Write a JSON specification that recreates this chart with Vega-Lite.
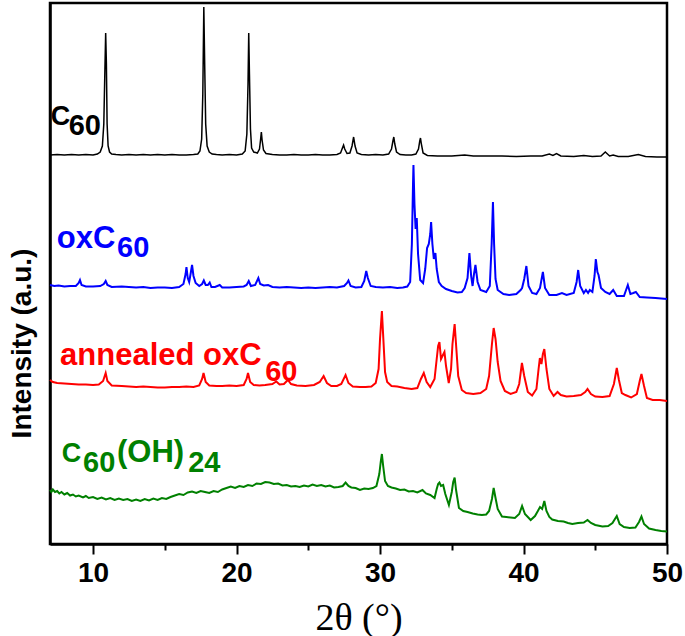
{
"$schema": "https://vega.github.io/schema/vega-lite/v6.json",
"width": 617, "height": 541,
"autosize": {"type": "none"},
"padding": {"left": 50, "top": 3, "right": 18, "bottom": 92},
"background": "white",
"config": {"view": {"stroke": "#000", "strokeWidth": 2.5}, "font": "Liberation Sans"},
"datasets": {
"c60": [{"x":7.0,"y":389},{"x":7.5,"y":389.5},{"x":8.0,"y":389},{"x":8.5,"y":389.5},{"x":9.0,"y":389},{"x":9.5,"y":389.5},{"x":10.0,"y":389},{"x":10.3,"y":390},{"x":10.5,"y":392},{"x":10.65,"y":398},{"x":10.75,"y":420},{"x":10.82,"y":470},{"x":10.88,"y":511},{"x":10.93,"y":480},{"x":10.98,"y":420},{"x":11.05,"y":398},{"x":11.15,"y":392},{"x":11.3,"y":390},{"x":11.6,"y":389.5},{"x":12.0,"y":389},{"x":12.5,"y":389.5},{"x":13.0,"y":389},{"x":13.5,"y":389.5},{"x":14.0,"y":389},{"x":14.5,"y":389.5},{"x":15.0,"y":389},{"x":15.5,"y":389.5},{"x":16.0,"y":389},{"x":16.5,"y":389},{"x":17.0,"y":389.5},{"x":17.3,"y":390},{"x":17.45,"y":393},{"x":17.57,"y":405},{"x":17.65,"y":450},{"x":17.72,"y":537},{"x":17.78,"y":480},{"x":17.85,"y":420},{"x":17.95,"y":398},{"x":18.1,"y":392},{"x":18.3,"y":390},{"x":18.6,"y":389.5},{"x":19.0,"y":389},{"x":19.5,"y":389.5},{"x":20.0,"y":389},{"x":20.4,"y":390},{"x":20.6,"y":393},{"x":20.72,"y":410},{"x":20.8,"y":460},{"x":20.85,"y":511},{"x":20.9,"y":470},{"x":20.97,"y":415},{"x":21.05,"y":396},{"x":21.2,"y":392},{"x":21.45,"y":391},{"x":21.6,"y":395},{"x":21.68,"y":405},{"x":21.73,"y":412},{"x":21.78,"y":404},{"x":21.88,"y":394},{"x":22.05,"y":390.5},{"x":22.5,"y":389.5},{"x":23.0,"y":389},{"x":23.5,"y":389},{"x":24.0,"y":389.5},{"x":24.5,"y":389},{"x":25.0,"y":389},{"x":25.5,"y":389.5},{"x":26.0,"y":389},{"x":26.5,"y":389},{"x":27.0,"y":389.5},{"x":27.25,"y":391},{"x":27.38,"y":396},{"x":27.46,"y":399},{"x":27.54,"y":395},{"x":27.7,"y":390.5},{"x":27.9,"y":391},{"x":28.05,"y":398},{"x":28.16,"y":407},{"x":28.26,"y":398},{"x":28.4,"y":391},{"x":28.7,"y":389.5},{"x":29.2,"y":389},{"x":29.7,"y":389.5},{"x":30.2,"y":389},{"x":30.6,"y":390},{"x":30.8,"y":395},{"x":30.9,"y":403},{"x":30.96,"y":407},{"x":31.03,"y":400},{"x":31.15,"y":392},{"x":31.4,"y":389.5},{"x":31.8,"y":389},{"x":32.2,"y":389},{"x":32.5,"y":390},{"x":32.68,"y":395},{"x":32.77,"y":403},{"x":32.82,"y":406},{"x":32.88,"y":400},{"x":33.0,"y":391},{"x":33.3,"y":388.5},{"x":34.0,"y":388},{"x":35.0,"y":388},{"x":35.9,"y":389},{"x":36.5,"y":388},{"x":37.5,"y":388},{"x":38.5,"y":388},{"x":39.5,"y":387.5},{"x":40.5,"y":388},{"x":41.3,"y":388},{"x":41.8,"y":390},{"x":42.05,"y":388.5},{"x":42.3,"y":390.5},{"x":42.6,"y":388},{"x":43.5,"y":387.5},{"x":44.2,"y":388.5},{"x":44.8,"y":387.5},{"x":45.4,"y":388},{"x":45.7,"y":392},{"x":46.0,"y":388},{"x":46.25,"y":389},{"x":46.6,"y":387.5},{"x":47.3,"y":387.5},{"x":48.0,"y":389.5},{"x":48.5,"y":387.5},{"x":49.3,"y":387},{"x":50.0,"y":387}],
"ox": [{"x":7.0,"y":259},{"x":7.3,"y":258},{"x":7.6,"y":258.5},{"x":8.0,"y":257.5},{"x":8.4,"y":258},{"x":8.8,"y":258},{"x":9.0,"y":261},{"x":9.09,"y":264},{"x":9.2,"y":259},{"x":9.5,"y":257.5},{"x":10.0,"y":257.5},{"x":10.5,"y":258},{"x":10.75,"y":260},{"x":10.88,"y":263},{"x":11.0,"y":259},{"x":11.3,"y":257},{"x":12.0,"y":257.5},{"x":12.5,"y":257},{"x":13.0,"y":256.5},{"x":13.5,"y":257},{"x":14.0,"y":256},{"x":14.5,"y":256.5},{"x":15.0,"y":256.5},{"x":15.5,"y":256},{"x":16.0,"y":257},{"x":16.3,"y":260},{"x":16.45,"y":270},{"x":16.51,"y":277},{"x":16.6,"y":266},{"x":16.7,"y":262},{"x":16.82,"y":272},{"x":16.9,"y":279},{"x":17.0,"y":268},{"x":17.15,"y":261},{"x":17.4,"y":258},{"x":17.6,"y":260},{"x":17.72,"y":263.5},{"x":17.85,"y":259},{"x":18.0,"y":259},{"x":18.13,"y":261.5},{"x":18.25,"y":257},{"x":18.5,"y":257},{"x":18.83,"y":259},{"x":19.0,"y":256.5},{"x":19.5,"y":256.5},{"x":20.0,"y":257},{"x":20.5,"y":257.5},{"x":20.7,"y":259},{"x":20.85,"y":263},{"x":21.0,"y":258},{"x":21.3,"y":259},{"x":21.52,"y":266},{"x":21.65,"y":260},{"x":21.9,"y":258.5},{"x":22.2,"y":259},{"x":22.5,"y":257},{"x":23.0,"y":256.5},{"x":23.5,"y":257},{"x":24.0,"y":256.5},{"x":24.5,"y":256},{"x":25.0,"y":256.5},{"x":25.5,"y":256},{"x":26.0,"y":256.5},{"x":26.5,"y":257},{"x":27.0,"y":256.5},{"x":27.5,"y":258},{"x":27.7,"y":261},{"x":27.8,"y":263.5},{"x":27.95,"y":258},{"x":28.3,"y":256.5},{"x":28.7,"y":257},{"x":28.9,"y":263},{"x":29.04,"y":273},{"x":29.15,"y":266},{"x":29.35,"y":258},{"x":29.7,"y":257},{"x":30.2,"y":256.5},{"x":30.7,"y":257},{"x":31.2,"y":256},{"x":31.6,"y":256.5},{"x":31.9,"y":257.5},{"x":32.1,"y":262},{"x":32.22,"y":300},{"x":32.3,"y":360},{"x":32.33,"y":379},{"x":32.4,"y":340},{"x":32.48,"y":315},{"x":32.56,"y":326},{"x":32.65,"y":290},{"x":32.8,"y":264},{"x":33.0,"y":261},{"x":33.15,"y":275},{"x":33.28,"y":296},{"x":33.4,"y":300},{"x":33.5,"y":310},{"x":33.56,"y":322},{"x":33.65,"y":300},{"x":33.75,"y":285},{"x":33.86,"y":291},{"x":33.95,"y":275},{"x":34.1,"y":262},{"x":34.3,"y":258},{"x":34.6,"y":255},{"x":35.0,"y":253},{"x":35.4,"y":251.5},{"x":35.7,"y":252},{"x":35.9,"y":256},{"x":36.1,"y":266},{"x":36.23,"y":291},{"x":36.35,"y":268},{"x":36.45,"y":258},{"x":36.55,"y":270},{"x":36.65,"y":279},{"x":36.8,"y":262},{"x":37.0,"y":254},{"x":37.4,"y":252},{"x":37.65,"y":258},{"x":37.78,"y":300},{"x":37.87,"y":342},{"x":37.95,"y":300},{"x":38.05,"y":265},{"x":38.2,"y":254},{"x":38.6,"y":250},{"x":39.0,"y":249},{"x":39.5,"y":250},{"x":39.8,"y":254},{"x":39.9,"y":256},{"x":40.05,"y":265},{"x":40.2,"y":278},{"x":40.35,"y":258},{"x":40.6,"y":251},{"x":40.9,"y":250},{"x":41.15,"y":256},{"x":41.35,"y":272},{"x":41.5,"y":256},{"x":41.8,"y":249},{"x":42.3,"y":249},{"x":42.68,"y":251},{"x":43.0,"y":249},{"x":43.5,"y":251},{"x":43.7,"y":262},{"x":43.81,"y":274},{"x":43.95,"y":258},{"x":44.2,"y":251},{"x":44.35,"y":254},{"x":44.5,"y":251},{"x":44.62,"y":254},{"x":44.8,"y":252},{"x":44.95,"y":268},{"x":45.04,"y":285},{"x":45.15,"y":272},{"x":45.23,"y":269},{"x":45.4,"y":256},{"x":45.7,"y":252},{"x":46.0,"y":250},{"x":46.25,"y":254},{"x":46.5,"y":248},{"x":47.0,"y":248},{"x":47.27,"y":259},{"x":47.45,"y":250},{"x":47.65,"y":251},{"x":47.83,"y":252},{"x":48.1,"y":247},{"x":48.6,"y":246.5},{"x":49.2,"y":246},{"x":49.6,"y":245.5},{"x":50.0,"y":245}],
"ann": [{"x":7.0,"y":164},{"x":7.2,"y":162},{"x":7.5,"y":161},{"x":8.0,"y":160.5},{"x":8.5,"y":160},{"x":9.0,"y":159.5},{"x":9.5,"y":159.5},{"x":10.0,"y":159},{"x":10.4,"y":159.5},{"x":10.7,"y":163},{"x":10.88,"y":171},{"x":11.0,"y":163},{"x":11.3,"y":158.5},{"x":12.0,"y":158},{"x":12.5,"y":157.5},{"x":13.0,"y":157},{"x":13.5,"y":157.5},{"x":14.0,"y":157},{"x":14.5,"y":156.5},{"x":15.0,"y":156.5},{"x":15.5,"y":157},{"x":16.0,"y":157},{"x":16.5,"y":157.5},{"x":17.0,"y":157},{"x":17.4,"y":158.5},{"x":17.6,"y":165},{"x":17.7,"y":171},{"x":17.85,"y":162},{"x":18.1,"y":158.5},{"x":18.6,"y":158},{"x":19.0,"y":158},{"x":19.5,"y":158.5},{"x":20.0,"y":158},{"x":20.5,"y":159},{"x":20.7,"y":165},{"x":20.8,"y":171},{"x":20.95,"y":162},{"x":21.2,"y":159},{"x":21.6,"y":158.5},{"x":22.0,"y":159},{"x":22.5,"y":160},{"x":22.77,"y":162.5},{"x":23.0,"y":159.5},{"x":23.3,"y":160},{"x":23.58,"y":164},{"x":23.8,"y":160},{"x":24.2,"y":158.5},{"x":24.8,"y":158},{"x":25.4,"y":159},{"x":25.8,"y":162},{"x":26.07,"y":168},{"x":26.3,"y":161},{"x":26.6,"y":158},{"x":27.0,"y":158},{"x":27.3,"y":160},{"x":27.6,"y":169},{"x":27.8,"y":161},{"x":28.1,"y":157.5},{"x":28.6,"y":157},{"x":29.0,"y":157},{"x":29.4,"y":157.5},{"x":29.7,"y":161},{"x":29.9,"y":175},{"x":30.0,"y":205},{"x":30.13,"y":233},{"x":30.25,"y":200},{"x":30.35,"y":172},{"x":30.5,"y":162},{"x":30.8,"y":158},{"x":31.2,"y":157.5},{"x":31.7,"y":156},{"x":32.2,"y":155},{"x":32.6,"y":156},{"x":32.85,"y":165},{"x":33.05,"y":171},{"x":33.25,"y":162},{"x":33.5,"y":157},{"x":33.8,"y":165},{"x":33.95,"y":185},{"x":34.05,"y":198},{"x":34.14,"y":202},{"x":34.25,"y":185},{"x":34.35,"y":188},{"x":34.49,"y":192},{"x":34.6,"y":178},{"x":34.79,"y":161},{"x":34.95,"y":175},{"x":35.05,"y":200},{"x":35.2,"y":220},{"x":35.32,"y":195},{"x":35.45,"y":168},{"x":35.7,"y":154},{"x":36.0,"y":151},{"x":36.5,"y":150},{"x":37.0,"y":151},{"x":37.4,"y":155},{"x":37.6,"y":168},{"x":37.8,"y":200},{"x":37.92,"y":216},{"x":38.05,"y":205},{"x":38.2,"y":182},{"x":38.4,"y":163},{"x":38.7,"y":153},{"x":39.1,"y":150},{"x":39.5,"y":152},{"x":39.7,"y":160},{"x":39.89,"y":181},{"x":40.05,"y":168},{"x":40.3,"y":152},{"x":40.6,"y":148.5},{"x":40.9,"y":155},{"x":41.05,"y":175},{"x":41.14,"y":186},{"x":41.25,"y":180},{"x":41.35,"y":190},{"x":41.45,"y":195},{"x":41.6,"y":175},{"x":41.8,"y":155},{"x":42.1,"y":148},{"x":42.37,"y":152},{"x":42.6,"y":149},{"x":43.0,"y":147.5},{"x":43.5,"y":148},{"x":44.0,"y":149},{"x":44.3,"y":152},{"x":44.46,"y":155},{"x":44.7,"y":150},{"x":45.0,"y":147.5},{"x":45.5,"y":147},{"x":46.0,"y":148},{"x":46.3,"y":160},{"x":46.5,"y":176},{"x":46.65,"y":164},{"x":46.85,"y":151},{"x":47.1,"y":149},{"x":47.5,"y":146.5},{"x":47.9,"y":150},{"x":48.1,"y":163},{"x":48.22,"y":170},{"x":48.4,"y":158},{"x":48.6,"y":146},{"x":49.0,"y":144},{"x":49.5,"y":144},{"x":50.0,"y":143}],
"oh": [{"x":7.0,"y":54},{"x":7.1,"y":52},{"x":7.2,"y":54.5},{"x":7.35,"y":52},{"x":7.5,"y":53},{"x":7.65,"y":50.5},{"x":7.8,"y":52},{"x":8.0,"y":49.5},{"x":8.2,"y":51},{"x":8.4,"y":48.5},{"x":8.6,"y":49.5},{"x":8.8,"y":47.5},{"x":9.0,"y":48.5},{"x":9.3,"y":46.5},{"x":9.5,"y":48},{"x":9.7,"y":46},{"x":10.0,"y":47},{"x":10.3,"y":45},{"x":10.6,"y":46.5},{"x":10.9,"y":44.5},{"x":11.2,"y":46},{"x":11.5,"y":44},{"x":11.8,"y":45.5},{"x":12.1,"y":44},{"x":12.4,"y":45},{"x":12.7,"y":43},{"x":13.0,"y":44.5},{"x":13.3,"y":43},{"x":13.6,"y":45},{"x":13.9,"y":43.5},{"x":14.2,"y":45.5},{"x":14.5,"y":44},{"x":14.8,"y":46},{"x":15.1,"y":45},{"x":15.4,"y":47},{"x":15.7,"y":48.5},{"x":16.0,"y":50},{"x":16.3,"y":49},{"x":16.6,"y":51.5},{"x":16.9,"y":52.5},{"x":17.2,"y":51},{"x":17.5,"y":53},{"x":17.8,"y":52},{"x":18.1,"y":51},{"x":18.4,"y":53},{"x":18.7,"y":52},{"x":19.0,"y":54.5},{"x":19.3,"y":56},{"x":19.6,"y":57.5},{"x":19.9,"y":56},{"x":20.2,"y":58},{"x":20.5,"y":57},{"x":20.8,"y":59},{"x":21.1,"y":58},{"x":21.4,"y":60.5},{"x":21.7,"y":60},{"x":22.0,"y":62},{"x":22.3,"y":61.5},{"x":22.6,"y":60},{"x":22.9,"y":60.5},{"x":23.2,"y":58.5},{"x":23.5,"y":59},{"x":23.8,"y":57.5},{"x":24.1,"y":58},{"x":24.4,"y":57},{"x":24.7,"y":58.5},{"x":25.0,"y":57.5},{"x":25.3,"y":59.5},{"x":25.6,"y":58},{"x":25.9,"y":59},{"x":26.2,"y":57.5},{"x":26.5,"y":58.5},{"x":26.8,"y":56.5},{"x":27.1,"y":57},{"x":27.4,"y":58},{"x":27.6,"y":61.5},{"x":27.8,"y":58},{"x":28.0,"y":56.5},{"x":28.3,"y":56},{"x":28.6,"y":54},{"x":28.9,"y":55.5},{"x":29.2,"y":55},{"x":29.5,"y":56},{"x":29.75,"y":58},{"x":29.95,"y":70},{"x":30.05,"y":82},{"x":30.13,"y":90},{"x":30.22,"y":78},{"x":30.35,"y":63},{"x":30.55,"y":58},{"x":30.8,"y":56.5},{"x":31.1,"y":55.5},{"x":31.4,"y":54},{"x":31.7,"y":54.5},{"x":32.0,"y":52.5},{"x":32.3,"y":53},{"x":32.6,"y":51.5},{"x":32.96,"y":54},{"x":33.2,"y":50.5},{"x":33.5,"y":49},{"x":33.8,"y":46},{"x":33.95,"y":55},{"x":34.05,"y":60},{"x":34.14,"y":61.5},{"x":34.25,"y":58},{"x":34.4,"y":59},{"x":34.55,"y":50},{"x":34.8,"y":39},{"x":35.0,"y":52},{"x":35.1,"y":62},{"x":35.2,"y":66.5},{"x":35.3,"y":54},{"x":35.5,"y":36},{"x":35.8,"y":33},{"x":36.1,"y":32},{"x":36.46,"y":30.5},{"x":36.8,"y":29.5},{"x":37.1,"y":29},{"x":37.4,"y":29.5},{"x":37.6,"y":33},{"x":37.8,"y":45},{"x":37.92,"y":56},{"x":38.05,"y":46},{"x":38.2,"y":35},{"x":38.5,"y":27.5},{"x":38.8,"y":27},{"x":39.1,"y":26.5},{"x":39.4,"y":26},{"x":39.7,"y":30},{"x":39.9,"y":38},{"x":40.1,"y":30},{"x":40.5,"y":24},{"x":40.8,"y":28},{"x":41.0,"y":33},{"x":41.15,"y":37},{"x":41.3,"y":35},{"x":41.45,"y":43},{"x":41.6,"y":33},{"x":41.8,"y":27},{"x":42.0,"y":24.5},{"x":42.4,"y":23},{"x":42.8,"y":22.5},{"x":43.1,"y":21},{"x":43.4,"y":20},{"x":43.8,"y":21},{"x":44.2,"y":21.5},{"x":44.46,"y":24},{"x":44.7,"y":21},{"x":45.0,"y":19},{"x":45.5,"y":17.5},{"x":45.9,"y":18},{"x":46.2,"y":21},{"x":46.5,"y":28},{"x":46.7,"y":20},{"x":47.0,"y":17},{"x":47.4,"y":16},{"x":47.8,"y":16.5},{"x":48.05,"y":22},{"x":48.22,"y":27.5},{"x":48.4,"y":20},{"x":48.75,"y":15.5},{"x":49.2,"y":14},{"x":49.6,"y":13},{"x":50.0,"y":12.5}],
"capc": [{"x":7.05,"y":419,"t":"C","s":"C60"},{"x":7.82,"y":82,"t":"C","s":"C60(OH)24"}],
"lab": [{"x":7.47,"y":296,"t":"oxC","s":"oxC60"},{"x":7.7,"y":179,"t":"annealed oxC","s":"annealed oxC60"},{"x":11.67,"y":82,"t":"(OH)","s":"C60(OH)24"}],
"sub": [{"x":8.3,"y":409,"t":"60","s":"C60"},{"x":11.67,"y":287,"t":"60","s":"oxC60"},{"x":22.0,"y":163,"t":"60","s":"annealed oxC60"},{"x":9.3,"y":72,"t":"60","s":"C60(OH)24"},{"x":16.63,"y":72,"t":"24","s":"C60(OH)24"}]
},
"encoding": {
"x": {"field": "x", "type": "quantitative", "scale": {"domain": [7, 50], "nice": false, "zero": false},
 "axis": {"values": [10, 15, 20, 25, 30, 35, 40, 45, 50], "labelExpr": "datum.value % 10 === 0 ? datum.label : ''",
  "tickSize": {"condition": {"test": "datum.value % 10 === 0", "value": 10}, "value": 6},
  "tickWidth": 2, "tickColor": "#000", "domainColor": "#000", "domainWidth": 2.5, "grid": false,
  "labelFontSize": 28, "labelFontWeight": "bold", "labelColor": "#000", "labelPadding": 5, "labelFlush": false, "labelOverlap": false,
  "title": "2θ (°)", "titleFont": "Liberation Serif", "titleFontSize": 38, "titleFontWeight": "normal", "titleColor": "#000", "titlePadding": 12}},
"y": {"field": "y", "type": "quantitative", "scale": {"domain": [0, 541], "nice": false, "zero": false},
 "axis": {"labels": false, "ticks": false, "grid": false, "domainColor": "#000", "domainWidth": 2.5,
  "title": "Intensity (a.u.)", "titleFont": "Liberation Sans Narrow, Liberation Sans", "titleFontSize": 28, "titleFontWeight": "bold", "titleColor": "#000", "titlePadding": 14, "titleY": 340}}
},
"layer": [
{"data": {"name": "c60"}, "mark": {"type": "line", "color": "#000000", "strokeWidth": 1.5}},
{"data": {"name": "ox"}, "mark": {"type": "line", "color": "#0000ff", "strokeWidth": 2}},
{"data": {"name": "ann"}, "mark": {"type": "line", "color": "#ff0000", "strokeWidth": 2}},
{"data": {"name": "oh"}, "mark": {"type": "line", "color": "#008000", "strokeWidth": 2}},
{"data": {"name": "capc"}, "mark": {"type": "text", "align": "left", "baseline": "alphabetic", "fontSize": 27, "fontWeight": "bold", "font": "Liberation Sans"},
 "encoding": {"text": {"field": "t"}, "color": {"field": "s", "type": "nominal", "legend": null, "scale": {"domain": ["C60", "oxC60", "annealed oxC60", "C60(OH)24"], "range": ["#000000", "#0000ff", "#ff0000", "#008000"]}}}},
{"data": {"name": "lab"}, "mark": {"type": "text", "align": "left", "baseline": "alphabetic", "fontSize": 31, "fontWeight": "bold", "font": "Liberation Sans"},
 "encoding": {"text": {"field": "t"}, "color": {"field": "s", "type": "nominal", "legend": null, "scale": {"domain": ["C60", "oxC60", "annealed oxC60", "C60(OH)24"], "range": ["#000000", "#0000ff", "#ff0000", "#008000"]}}}},
{"data": {"name": "sub"}, "mark": {"type": "text", "align": "left", "baseline": "alphabetic", "fontSize": 29, "fontWeight": "bold", "font": "Liberation Sans"},
 "encoding": {"text": {"field": "t"}, "color": {"field": "s", "type": "nominal", "legend": null, "scale": {"domain": ["C60", "oxC60", "annealed oxC60", "C60(OH)24"], "range": ["#000000", "#0000ff", "#ff0000", "#008000"]}}}}
]
}
